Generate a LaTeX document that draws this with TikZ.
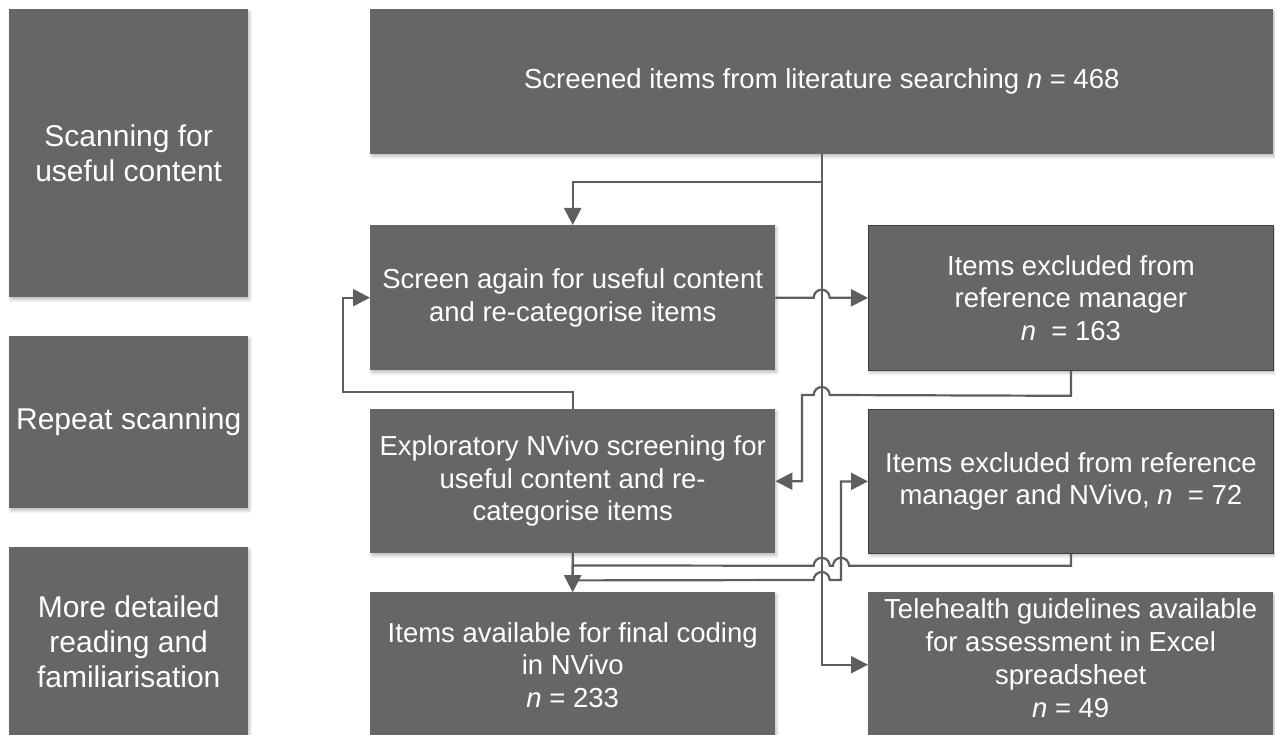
\documentclass[tikz,border=0pt]{standalone}
\usepackage{fontspec}
\setmainfont{Liberation Sans}
\usetikzlibrary{arrows.meta,shadows.blur,calc}
\definecolor{boxgray}{HTML}{666666}
\definecolor{linegray}{HTML}{5E5E5E}
\definecolor{edgegray}{HTML}{3F3F3F}
\begin{document}
\begin{tikzpicture}[x=1pt,y=-1pt,
  box/.style={fill=boxgray, text=white, inner sep=0pt, anchor=north west,
    align=center, font=\fontsize{27.5}{32.5}\selectfont,
    blur shadow={shadow xshift=1.5pt, shadow yshift=-2.5pt, shadow blur radius=3pt, shadow opacity=25}},
  phase/.style={box, minimum width=239pt, font=\fontsize{30}{35}\selectfont},
  outbox/.style={box, draw=edgegray, line width=0.8pt},
  link/.style={draw=linegray, line width=2.2pt},
  arr/.style={link, -{Triangle[length=17pt,width=17pt]}}]

\useasboundingbox (0,0) rectangle (1275,735);

% phase labels on the left
\node[phase, minimum height=288pt] (ph1) at (9,9) {Scanning for\\useful content};
\node[phase, minimum height=172pt] (ph2) at (9,336) {Repeat scanning};
\node[phase, minimum height=190pt] (ph3) at (9,547) {More detailed\\reading and\\familiarisation};

% flow boxes
\node[box, minimum width=903pt, minimum height=145pt] (top) at (370,9)
  {Screened items from literature searching \textit{n} = 468};
\node[box, minimum width=405pt, minimum height=145pt] (scr) at (370,225)
  {Screen again for useful content\\and re-categorise items};
\node[outbox, minimum width=405pt, minimum height=145pt] (exa) at (868,225)
  {Items excluded from\\reference manager\\\textit{n}\ \ = 163};
\node[box, minimum width=405pt, minimum height=144pt] (expl) at (370,409)
  {Exploratory NVivo screening for\\useful content and re-\\categorise items};
\node[outbox, minimum width=405pt, minimum height=144pt] (exb) at (868,409)
  {Items excluded from reference\\manager and NVivo, \textit{n}\ \ = 72};
\node[box, minimum width=405pt, minimum height=145pt] (avail) at (370,592)
  {Items available for final coding\\in NVivo\\\textit{n} = 233};
\node[box, minimum width=405pt, minimum height=145pt] (tele) at (868,592)
  {\parbox{400pt}{\centering\baselineskip=33pt Telehealth guidelines available\\for assessment in Excel\\spreadsheet\\\textit{n} = 49\par\vspace{13pt}}};

% bend points
\coordinate (split) at ($(top.south)+(0,28)$);
\coordinate (loopA) at ($(expl.north)+(0,-17)$);
\coordinate (loopB) at (343,392);
\coordinate (backA) at ($(exa.south)+(0,25)$);
\coordinate (backB) at (802,395);
\coordinate (downA) at ($(expl.south)+(0,27)$);
\coordinate (downB) at (841,580);
\coordinate (finA) at ($(exb.south)+(0,12)$);
\coordinate (finB) at ($(expl.south)+(0,12)$);

% connectors (line jumps where they cross)
\draw[arr] (top.south) -- (split) -| (scr.north);
\draw[arr] (top.south) |- (tele.west);
\draw[arr] (scr.east) -- ($(top.south |- scr.east)+(-8,0)$)
  arc[start angle=180, end angle=360, radius=8] -- (exa.west);
\draw[arr] (exa.south) -- (backA) -- ($(top.south |- backB)+(8,0)$)
  arc[start angle=0, end angle=-180, radius=8] -- (backB) |- (expl.east);
\draw[arr] (expl.north) -- (loopA) -- (loopB) |- (scr.west);
\draw[arr] (expl.south) -- (avail.north);
\draw[arr] (expl.south) -- (downA) -- ($(top.south |- downB)+(-8,0)$)
  arc[start angle=180, end angle=360, radius=8] -- (downB) |- (exb.west);
\draw[arr] (exb.south) -- (finA) -- ($(downB |- finA)+(8,0)$)
  arc[start angle=0, end angle=-180, radius=8]
  -- ($(top.south |- finA)+(8,0)$)
  arc[start angle=0, end angle=-180, radius=8] -- (finB) -- (avail.north);
\end{tikzpicture}
\end{document}
